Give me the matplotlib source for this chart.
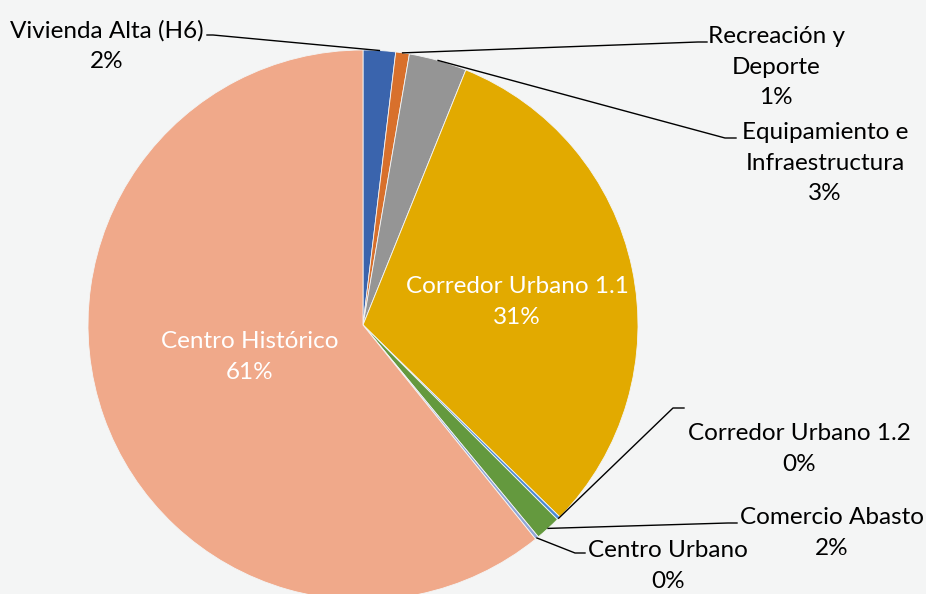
import numpy as np
import matplotlib
matplotlib.use("Agg")
import matplotlib.pyplot as plt

plt.rcParams['font.family'] = ['Lato', 'DejaVu Sans']

categories = ["Vivienda Alta (H6)", "Recreación y\nDeporte", "Equipamiento e\nInfraestructura",
              "Corredor Urbano 1.1", "Corredor Urbano 1.2", "Comercio Abasto",
              "Centro Urbano", "Centro Histórico"]
values = [1.9, 0.8, 3.4, 31.2, 0.2, 1.5, 0.2, 60.8]
colors = ["#3A64AD", "#D8702C", "#959595", "#E2AA00", "#4A8AD6", "#64993E", "#90A6D8", "#F0A98A"]

W, H = 926, 594
def fy(y):
    return H - y

fig = plt.figure(figsize=(W / 100, H / 100), dpi=100)
fig.patch.set_facecolor("#F4F5F5")
ax = fig.add_axes([0, 0, 1, 1])

cx, cy, R = 363, fy(325), 275
wedges, _ = ax.pie(values, colors=colors, startangle=90, counterclock=False,
                   center=(cx, cy), radius=R, frame=True,
                   wedgeprops=dict(edgecolor="#F4F5F5", linewidth=0.6))
ax.set_xlim(0, W)
ax.set_ylim(0, H)
ax.set_aspect("equal")
ax.axis("off")

def pct(v):
    return "%d%%" % int(np.floor(v / sum(values) * 100 + 0.5))

fs = 17.5
ls = 1.53
# inside labels
inside = {3: (517, 302), 7: (250, 357)}
for i, (x, y) in inside.items():
    ax.text(x, fy(y), categories[i] + "\n" + pct(values[i]), color="white",
            ha="center", va="center", fontsize=fs, linespacing=ls)

# outside labels: text centre, elbow point, horizontal end
outside = {
    0: ((107, 46), (213, 35), (207, 35)),
    1: ((776, 67), (698, 42), (707, 42)),
    2: ((825, 163), (725, 138), (736, 138)),
    4: ((799, 449), (673, 408), (684, 408)),
    5: ((832, 533), (728, 523), (737, 523)),
    6: ((668, 566), (575, 553), (585, 553)),
}
for i, (txt, elbow, end) in outside.items():
    w = wedges[i]
    mid = np.deg2rad((w.theta1 + w.theta2) / 2)
    ax_, ay_ = cx + R * np.cos(mid), cy + R * np.sin(mid)
    ax.plot([ax_, elbow[0], end[0]], [ay_, fy(elbow[1]), fy(end[1])],
            color="black", lw=1.0)
    ax.text(txt[0], fy(txt[1]), categories[i] + "\n" + pct(values[i]), color="black",
            ha="center", va="center", fontsize=fs, linespacing=ls)

fig.savefig("out.png", dpi=100, facecolor=fig.get_facecolor())
